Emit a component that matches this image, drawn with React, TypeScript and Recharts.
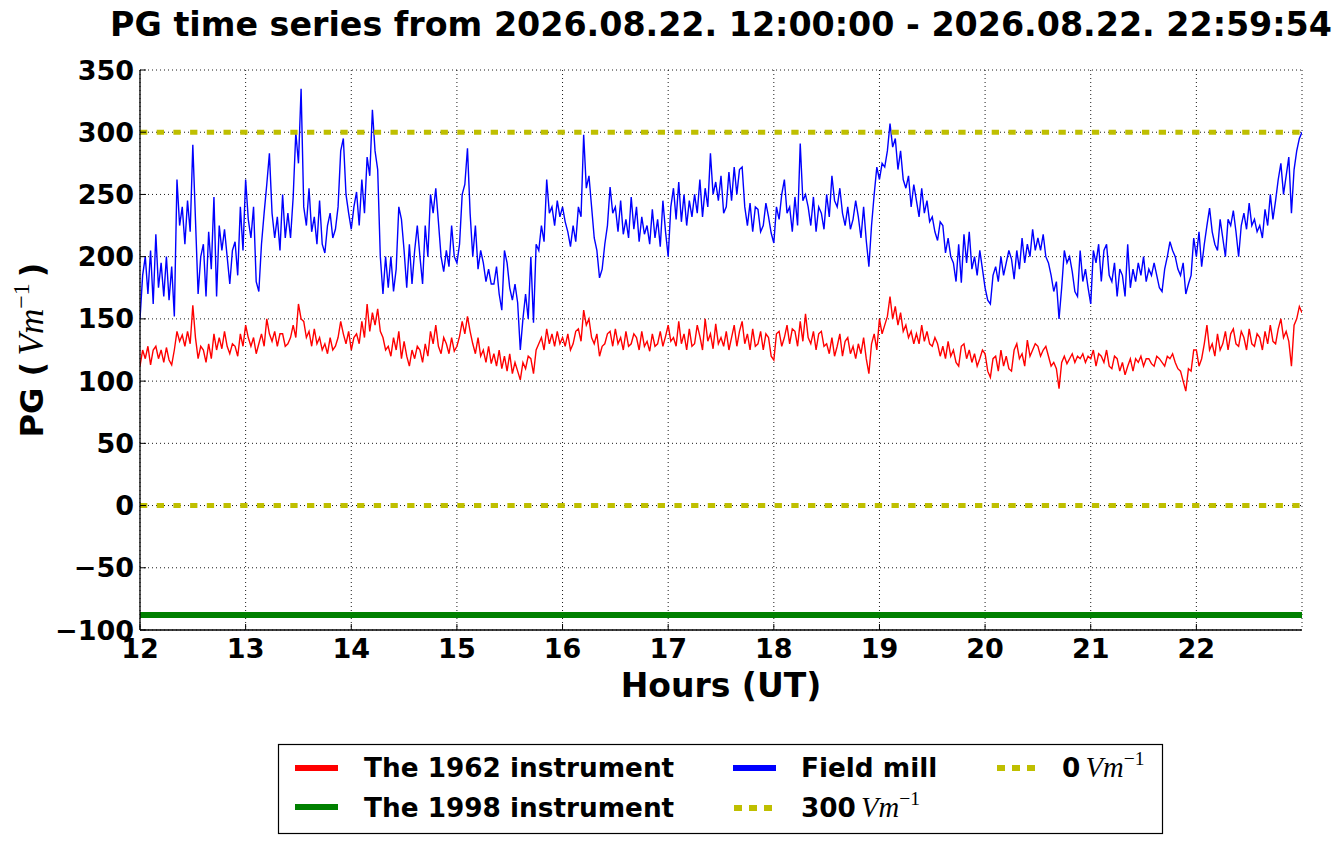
import React from 'react';
import { LineChart, Line, XAxis, YAxis, CartesianGrid, ReferenceLine } from 'recharts';

const SAMPLE_START_HOUR = 12;
const SAMPLE_STEP_HOURS = 0.025;

// Field mill (blue), one row per hour
const fieldMillValues: number[] = [
  150,185, 200,170, 205,162, 218,175, 195,168, 200,165, 192,152, 262,225, 240,210, 245,220, 290,230, 170,200, 210,168, 220,190, 248,168, 225,205, 222,200, 178,205, 212,185, 240,205,
  262,230, 215,240, 180,172, 210,235, 258,283, 235,215, 232,205, 250,215, 235,215, 248,300, 275,335, 240,225, 255,220, 232,210, 245,210, 203,225, 235,215, 222,240, 285,295, 250,235,
  222,240, 252,225, 262,235, 280,265, 318,285, 270,200, 170,200, 175,200, 172,190, 240,230, 205,175, 210,178, 205,225, 200,178, 225,200, 250,235, 255,228, 200,188, 205,192, 225,200,
  195,210, 250,258, 287,235, 200,225, 190,205, 195,180, 190,178, 178,192, 170,157, 205,195, 175,165, 178,163, 125,150, 170,150, 200,147, 210,205, 225,212, 262,235, 240,225, 245,232,
  240,228, 220,208, 225,212, 240,232, 298,255, 265,240, 215,205, 183,190, 210,225, 256,235, 240,220, 245,218, 230,215, 248,222, 240,212, 232,218, 225,210, 238,215, 230,208, 245,220,
  200,240, 255,230, 260,228, 250,225, 245,232, 250,235, 262,232, 255,240, 283,250, 260,245, 265,235, 240,268, 245,272, 250,270, 272,240, 225,243, 220,240, 238,220, 225,243, 232,219,
  211,240, 230,250, 262,235, 240,220, 248,225, 291,245, 250,240, 225,248, 220,240, 235,222, 250,232, 265,245, 240,255, 235,225, 240,222, 230,245, 232,215, 240,213, 192,225, 250,272,
  262,275, 272,285, 307,288, 295,270, 285,262, 255,265, 240,258, 245,232, 255,235, 245,228, 232,220, 213,228, 225,203, 215,200, 195,180, 210,179, 218,195, 220,190, 200,185, 205,190,
  175,165, 162,185, 192,180, 200,185, 195,205, 198,182, 205,190, 215,195, 210,200, 222,205, 215,205, 218,200, 195,185, 172,180, 150,175, 205,195, 200,188, 172,168, 205,180, 190,175,
  162,205, 195,210, 180,205, 210,185, 180,195, 168,190, 185,168, 210,175, 190,180, 195,185, 200,180, 190,185, 195,185, 175,172, 190,200, 212,205, 200,190, 185,195, 170,178, 185,215,
  200,220, 192,210, 225,239, 220,210, 205,230, 215,200, 230,225, 237,220, 200,225, 235,222, 243,225, 230,220, 225,215, 238,225, 250,230, 245,262, 275,250, 265,280, 235,270, 285,295,
  300,
];

// The 1962 instrument (red)
const instrument1962Values: number[] = [
  112,125, 118,128, 113,125, 128,118, 125,115, 127,117, 113,125, 140,132, 137,128, 140,130, 161,135, 118,128, 125,115, 130,118, 138,125, 135,126, 140,128, 122,130, 128,120, 138,128,
  145,135, 128,135, 122,130, 138,128, 150,138, 132,140, 128,138, 138,128, 130,135, 145,135, 162,150, 148,135, 140,128, 142,130, 135,125, 130,122, 135,125, 128,135, 148,138, 130,140,
  125,135, 138,130, 148,135, 162,140, 155,145, 158,140, 135,125, 128,120, 135,125, 140,118, 132,120, 112,125, 118,128, 125,115, 130,120, 140,130, 145,128, 122,135, 130,122, 135,124,
  128,136, 148,138, 152,140, 130,122, 135,120, 125,115, 128,114, 122,112, 125,110, 120,108, 122,106, 115,108, 101,115, 110,120, 118,106, 125,130, 135,125, 142,130, 138,128, 140,130,
  135,128, 138,125, 130,140, 142,132, 157,145, 150,135, 130,138, 120,128, 130,138, 140,128, 142,130, 135,125, 140,128, 130,138, 135,125, 140,128, 132,124, 138,128, 130,140, 128,136,
  145,132, 135,128, 148,130, 138,125, 142,128, 130,145, 136,125, 150,132, 138,126, 146,130, 135,128, 140,125, 135,145, 128,140, 148,130, 138,125, 142,128, 130,140, 125,138, 135,120,
  117,138, 140,128, 135,145, 130,142, 140,128, 148,132, 154,135, 130,140, 125,138, 140,128, 130,122, 135,120, 128,138, 120,132, 135,122, 128,118, 130,122, 135,118, 106,130, 138,125,
  150,138, 145,152, 168,150, 160,145, 155,140, 145,135, 140,130, 138,130, 145,132, 140,130, 128,135, 130,120, 128,118, 132,120, 125,115, 112,128, 130,118, 125,115, 122,112, 118,125,
  122,108, 103,118, 120,108, 125,112, 120,110, 108,125, 130,118, 122,112, 133,120, 125,130, 128,120, 125,128, 120,112, 115,110, 94,115, 120,114, 118,122, 115,120, 118,122, 115,120,
  118,125, 112,122, 120,115, 125,112, 110,120, 118,108, 115,105, 112,118, 108,118, 115,120, 112,118, 118,114, 112,120, 118,115, 112,120, 118,122, 115,110, 108,100, 92,110, 108,125,
  125,112, 118,130, 145,125, 130,120, 138,125, 130,140, 125,138, 142,130, 128,140, 135,125, 142,130, 128,138, 135,125, 140,130, 145,132, 130,142, 150,135, 140,132, 112,145, 150,160,
  155,
];

// The 1998 instrument (green), flat trace
const instrument1998Hours = [12, 13, 14, 15, 16, 17, 18, 19, 20, 21, 22, 23];
const instrument1998Values = [-88, -88, -88, -88, -88, -88, -88, -88, -88, -88, -88, -88];

const xTickHours = [12, 13, 14, 15, 16, 17, 18, 19, 20, 21, 22];
const yTickValues = [-100, -50, 0, 50, 100, 150, 200, 250, 300, 350];
const referenceLevels = [300, 0];

const TITLE = 'PG time series from 2026.08.22. 12:00:00 - 2026.08.22. 22:59:54';

const mainData = fieldMillValues.map((v, i) => ({
  t: Math.round((SAMPLE_START_HOUR + i * SAMPLE_STEP_HOURS) * 1000) / 1000,
  fieldMill: v,
  inst1962: instrument1962Values[i],
}));

const greenData = instrument1998Hours.map((h, i) => ({ t: h, inst1998: instrument1998Values[i] }));

const SANS = 'DejaVu Sans';
const MATH = 'Liberation Serif';
const fmtY = (v: number) => (v < 0 ? '\u2212' + Math.abs(v) : String(v));

const tickStyle = { fontSize: 27, fontWeight: 'bold' as const, fontFamily: SANS, fill: '#000' };

function VmUnit({ size }: { size: number }) {
  return (
    <>
      <tspan fontFamily={MATH} fontStyle="italic" fontWeight="normal" fontSize={size * 1.1} dx={size * 0.2}>Vm</tspan>
      <tspan fontFamily={MATH} fontWeight="normal" fontSize={size * 0.75} dy={-size * 0.45}>{'\u2212'}1</tspan>
    </>
  );
}

export default function App() {
  return (
    <div style={{ position: 'absolute', left: 0, top: 0, width: 1342, height: 844, background: '#fff' }}>
      <LineChart
        width={1342}
        height={844}
        data={mainData}
        margin={{ top: 70, right: 40, bottom: 174, left: 60 }}
        style={{ fontFamily: SANS }}
      >
        <CartesianGrid stroke="#000" strokeWidth={0.9} strokeDasharray="1 3" />
        <XAxis
          type="number"
          dataKey="t"
          domain={[12, 23]}
          ticks={xTickHours}
          allowDataOverflow
          height={40}
          tick={tickStyle}
          tickSize={-6}
          tickMargin={15}
          axisLine={{ stroke: '#000', strokeWidth: 1.3 }}
          tickLine={{ stroke: '#000', strokeWidth: 1 }}
        />
        <YAxis
          type="number"
          domain={[-100, 350]}
          ticks={yTickValues}
          allowDataOverflow
          width={80}
          tick={tickStyle}
          tickFormatter={fmtY}
          tickSize={-6}
          tickMargin={12}
          axisLine={{ stroke: '#000', strokeWidth: 1.3 }}
          tickLine={{ stroke: '#000', strokeWidth: 1 }}
        />
        <XAxis
          xAxisId="top"
          orientation="top"
          type="number"
          dataKey="t"
          domain={[12, 23]}
          ticks={xTickHours}
          height={0}
          tick={false}
          tickSize={-6}
          axisLine={{ stroke: '#000', strokeWidth: 1.3 }}
          tickLine={{ stroke: '#000', strokeWidth: 1 }}
        />
        <YAxis
          yAxisId="right"
          orientation="right"
          type="number"
          domain={[-100, 350]}
          ticks={yTickValues}
          width={0}
          tick={false}
          tickSize={-6}
          axisLine={{ stroke: '#000', strokeWidth: 1.3 }}
          tickLine={{ stroke: '#000', strokeWidth: 1 }}
        />
        <Line
          dataKey="inst1962"
          stroke="#ff0000"
          strokeWidth={1.4}
          dot={false}
          activeDot={false}
          isAnimationActive={false}
        />
        <Line
          data={greenData}
          dataKey="inst1998"
          stroke="#008000"
          strokeWidth={6}
          dot={false}
          activeDot={false}
          isAnimationActive={false}
        />
        <Line
          dataKey="fieldMill"
          stroke="#0000ff"
          strokeWidth={1.4}
          dot={false}
          activeDot={false}
          isAnimationActive={false}
        />
        {referenceLevels.map((lvl) => (
          <ReferenceLine
            key={lvl}
            y={lvl}
            stroke="#bfbf00"
            strokeWidth={5}
            strokeDasharray="7.3 9.4"
          />
        ))}
      </LineChart>

      <svg
        width={1342}
        height={844}
        style={{ position: 'absolute', left: 0, top: 0, pointerEvents: 'none' }}
      >
        <text x={721} y={36} textAnchor="middle" fontFamily={SANS} fontWeight="bold" fontSize={33.3} fill="#000">
          {TITLE}
        </text>
        <text x={721} y={697} textAnchor="middle" fontFamily={SANS} fontWeight="bold" fontSize={33} fill="#000">
          Hours (UT)
        </text>
        <text
          transform="translate(43,350) rotate(-90)"
          textAnchor="middle"
          fontFamily={SANS}
          fontWeight="bold"
          fontSize={32}
          fill="#000"
        >
          PG (
          <VmUnit size={32} />
          <tspan dy={32 * 0.45} dx={6}>)</tspan>
        </text>

        <rect x={278.5} y={744.5} width={884} height={89} fill="#fff" stroke="#000" strokeWidth={1.2} />

        <line x1={295} y1={768} x2={338} y2={768} stroke="#ff0000" strokeWidth={6} />
        <text x={364} y={777} fontFamily={SANS} fontWeight="bold" fontSize={26.3} fill="#000">The 1962 instrument</text>

        <line x1={295} y1={807} x2={338} y2={807} stroke="#008000" strokeWidth={6} />
        <text x={364} y={817} fontFamily={SANS} fontWeight="bold" fontSize={26.3} fill="#000">The 1998 instrument</text>

        <line x1={733} y1={768} x2={776} y2={768} stroke="#0000ff" strokeWidth={6} />
        <text x={801} y={777} fontFamily={SANS} fontWeight="bold" fontSize={26.3} fill="#000">Field mill</text>

        <line x1={734} y1={808} x2={774} y2={808} stroke="#bfbf00" strokeWidth={6} strokeDasharray="8 7" />
        <text x={801} y={817} fontFamily={SANS} fontWeight="bold" fontSize={26.3} fill="#000">
          300<VmUnit size={26} />
        </text>

        <line x1={997} y1={768} x2={1036} y2={768} stroke="#bfbf00" strokeWidth={6} strokeDasharray="8 7" />
        <text x={1062} y={777} fontFamily={SANS} fontWeight="bold" fontSize={26.3} fill="#000">
          0<VmUnit size={26} />
        </text>
      </svg>
    </div>
  );
}
